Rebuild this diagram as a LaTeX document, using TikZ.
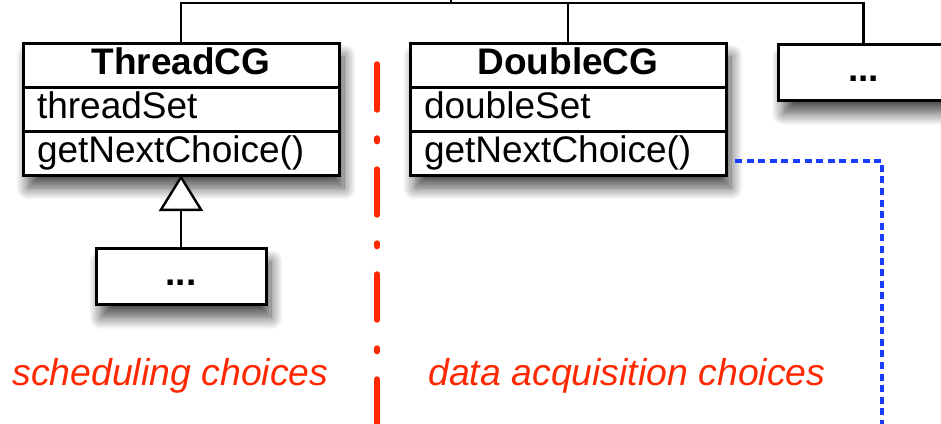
\documentclass[tikz,border=0pt]{standalone}
\usepackage{fontspec}
\setmainfont{Liberation Sans}
\usetikzlibrary{arrows.meta, positioning, fit, backgrounds, shadows.blur}

\definecolor{choicered}{RGB}{255,40,0}
\definecolor{cgblue}{RGB}{25,60,255}

\begin{document}
\begin{tikzpicture}[
        x=0.5pt, y=-0.5pt,
        font=\fontsize{18.5}{22}\selectfont,
        node distance=0pt,
        row/.style={draw, line width=1.5pt, fill=white, inner sep=0pt, outer sep=0pt,
            minimum height=22pt, text height=13.5pt, text depth=4.5pt},
        head/.style={row, minimum width=158pt, font=\fontsize{18.5}{22}\selectfont\bfseries},
        member/.style={row, text width=144pt, inner xsep=7pt, align=left},
        shade/.style={inner sep=0pt, fill=white, blur shadow={shadow xshift=2.5pt,
            shadow yshift=-6.5pt, shadow blur radius=6pt, shadow blur steps=16,
            shadow opacity=70}},
        stub/.style={shade, draw, line width=1.5pt, minimum width=85pt, minimum height=28pt,
            text height=13.5pt, text depth=4.5pt, font=\fontsize{18.5}{22}\selectfont\bfseries},
        link/.style={line width=1.2pt},
        isa/.style={line width=1.2pt, -{Triangle[open, fill=white, length=18pt, width=22pt, line width=1.2pt]}},
        divider/.style={choicered, line width=2.7pt, line cap=round,
            dash pattern=on 23pt off 14pt on 1.8pt off 13.7pt},
        flow/.style={cgblue, line width=1.6pt, dash pattern=on 3.5pt off 2.3pt},
        choice/.style={text=choicered, inner sep=0pt, font=\fontsize{18.7}{22}\selectfont\itshape},
    ]
    \path[use as bounding box, clip] (0,0) rectangle (941,423);

    % ThreadCG class
    \node[head, anchor=north west] (thrName) at (23,43) {ThreadCG};
    \node[member, below=of thrName] (thrAttr) {threadSet};
    \node[member, below=of thrAttr] (thrOp) {getNextChoice()};

    % DoubleCG class
    \node[head, anchor=north west] (dblName) at (410,43) {DoubleCG};
    \node[member, below=of dblName] (dblAttr) {doubleSet};
    \node[member, below=of dblAttr] (dblOp) {getNextChoice()};

    % further generators
    \node[stub, anchor=north west] (more) at (777,43) {...};
    \node[stub, below=36pt of thrOp] (thrSub) {...};

    \begin{scope}[on background layer]
        \node[shade, fit=(thrName)(thrOp)] {};
        \node[shade, fit=(dblName)(dblOp)] {};
    \end{scope}

    % hierarchy
    \coordinate (bus) at (451,3);
    \coordinate (parent) at (451,-10);
    \draw[link] (parent) -- (bus);
    \draw[link] (thrName.north) |- (bus) -| (dblName.north);
    \draw[link] (bus) -| (more.north);
    \draw[isa] (thrSub) -- (thrOp);

    % choice kinds
    \coordinate (splitTop) at (377,64);
    \coordinate (splitBot) at (377,440);
    \draw[divider] (splitTop) -- (splitBot);
    \coordinate (feed) at (882,440);
    \draw[flow] ([xshift=4.5pt, yshift=-4pt]dblOp.east) -| (feed);

    \node[choice, anchor=base west] (schedLbl) at (12,385) {scheduling choices};
    \node[choice, anchor=base west] (dataLbl) at (428,385) {data acquisition choices};
\end{tikzpicture}
\end{document}
